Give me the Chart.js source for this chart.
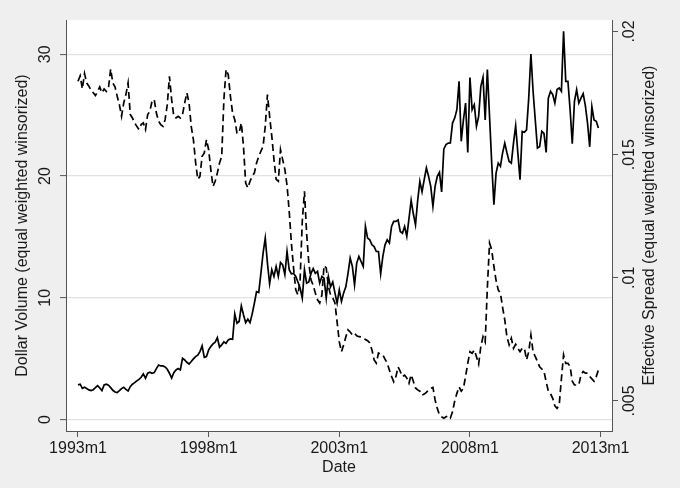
<!DOCTYPE html>
<html>
<head>
<meta charset="utf-8">
<script src="https://cdn.jsdelivr.net/npm/chart.js@4"></script>
<style>
html, body { margin: 0; padding: 0; background: #efefef; }
</style>
</head>
<body>
<canvas id="chart" width="680" height="488"></canvas>
<script>
// month index 0 = 1993m1
const xTickMonths = [0, 60, 120, 180, 240];
const xTickLabels = ['1993m1', '1998m1', '2003m1', '2008m1', '2013m1'];
const leftTicks = [0, 10, 20, 30];
const rightTicks = [0.005, 0.01, 0.015, 0.02];
const rightTickLabels = ['.005', '.01', '.015', '.02'];

const dollarVolume = [
 2.84,2.90,2.56,2.65,2.54,2.43,2.37,2.45,2.62,2.78,
 2.59,2.37,2.84,2.90,2.81,2.62,2.40,2.26,2.21,2.37,
 2.54,2.65,2.48,2.34,2.70,2.90,3.03,3.17,3.30,3.47,
 3.74,3.39,3.80,3.88,3.80,3.85,4.18,4.48,4.40,4.40,
 4.32,4.13,3.80,3.41,3.85,4.07,4.18,4.07,5.03,4.89,
 4.70,4.56,4.76,4.98,5.17,5.28,5.58,6.05,5.11,5.17,
 5.72,5.99,6.21,6.35,6.73,5.94,6.13,6.37,6.26,6.54,
 6.62,6.59,8.68,7.91,8.05,9.33,8.60,7.96,8.24,7.96,
 8.68,9.55,10.50,10.43,12.00,13.67,14.90,12.85,11.15,12.30,
 11.75,12.57,11.75,12.90,12.70,11.90,13.80,12.30,11.97,12.00,
 11.75,11.30,10.80,9.97,12.30,11.20,11.30,12.00,12.40,12.00,
 12.16,11.20,11.75,11.60,9.97,11.75,10.90,11.30,10.40,9.56,
 10.65,9.70,10.40,10.90,12.00,13.26,12.57,11.06,12.85,13.40,
 12.98,12.57,15.86,14.90,14.76,14.35,14.20,13.80,13.80,11.97,
 13.40,14.35,14.76,14.50,15.86,16.27,16.27,16.40,15.45,15.30,
 15.86,15.04,16.50,18.00,16.90,16.00,18.00,19.56,18.70,19.70,
 20.66,19.97,19.15,17.50,19.15,19.97,20.30,18.70,22.20,22.58,
 22.70,22.71,24.35,24.76,25.45,27.78,22.85,24.60,26.00,21.94,
 28.10,25.45,25.86,24.08,24.90,27.37,28.10,24.60,28.74,24.90,
 21.06,17.64,20.24,21.06,20.80,21.90,22.70,21.90,21.20,21.06,
 22.70,24.13,21.90,19.70,23.67,23.60,23.80,26.40,30.03,26.96,
 24.60,22.30,22.40,23.67,23.50,21.94,26.40,26.96,26.70,26.00,
 27.10,27.23,26.96,31.90,27.78,27.78,25.45,22.65,26.13,27.10,
 26.00,26.40,26.77,25.78,24.35,22.40,25.70,24.60,24.50,23.94
];

const effectiveSpread = [
 .01798,.01820,.01767,.01829,.01791,.01778,.01762,.01751,.01740,.01757,
 .01775,.01751,.01767,.01757,.01771,.01848,.01791,.01775,.01737,.01703,
 .01656,.01710,.01744,.01791,.01663,.01649,.01629,.01615,.01602,.01622,
 .01629,.01602,.01663,.01676,.01717,.01724,.01669,.01636,.01622,.01615,
 .01642,.01703,.01818,.01724,.01656,.01649,.01656,.01649,.01663,.01710,
 .01751,.01710,.01615,.01561,.01470,.01400,.01412,.01493,.01507,.01561,
 .01520,.01439,.01371,.01392,.01426,.01466,.01493,.01724,.01846,.01825,
 .01737,.01669,.01642,.01588,.01588,.01629,.01534,.01385,.01365,.01392,
 .01412,.01426,.01466,.01493,.01514,.01534,.01615,.01744,.01656,.01575,
 .01480,.01400,.01392,.01520,.01480,.01440,.01375,.01270,.01141,.01040,
 .00951,.00931,.00990,.01230,.01351,.01180,.01060,.00992,.00970,.00938,
 .00911,.00898,.00930,.01050,.01040,.00965,.00930,.00919,.00898,.00820,
 .00740,.00700,.00728,.00760,.00789,.00780,.00768,.00775,.00765,.00761,
 .00760,.00756,.00750,.00745,.00736,.00707,.00667,.00654,.00695,.00690,
 .00687,.00670,.00654,.00626,.00600,.00578,.00599,.00638,.00620,.00599,
 .00605,.00593,.00572,.00606,.00580,.00553,.00545,.00540,.00524,.00528,
 .00535,.00545,.00551,.00555,.00504,.00470,.00443,.00436,.00430,.00436,
 .00440,.00431,.00456,.00500,.00531,.00558,.00540,.00551,.00600,.00653,
 .00700,.00694,.00707,.00680,.00650,.00721,.00761,.00740,.00960,.01141,
 .01113,.01046,.00990,.00951,.00938,.00880,.00829,.00760,.00728,.00755,
 .00714,.00730,.00714,.00700,.00714,.00714,.00667,.00700,.00768,.00700,
 .00680,.00660,.00639,.00630,.00620,.00578,.00540,.00530,.00511,.00480,
 .00470,.00484,.00590,.00687,.00653,.00653,.00640,.00580,.00565,.00565,
 .00565,.00606,.00620,.00613,.00613,.00600,.00590,.00580,.00599,.00626
];

const FONT = '"Liberation Sans", Arial, sans-serif';
const TXT = '#1a1a1a';
const AXIS = '#555555';
Chart.defaults.font.family = FONT;
Chart.defaults.font.size = 16;
Chart.defaults.color = TXT;

// white plot region on gray graph region
const plotBg = {
  id: 'plotBg',
  beforeDraw(chart) {
    const {ctx, chartArea: a} = chart;
    ctx.save();
    ctx.fillStyle = '#efefef';
    ctx.fillRect(0, 0, chart.width, chart.height);
    ctx.fillStyle = '#ffffff';
    ctx.fillRect(a.left, a.top, a.right - a.left, a.bottom - a.top);
    ctx.restore();
  }
};

// right axis title reads bottom-to-top like the left one
const rightTitle = {
  id: 'rightTitle',
  afterDraw(chart) {
    const {ctx, chartArea: a} = chart;
    ctx.save();
    ctx.font = '16px ' + FONT;
    ctx.fillStyle = TXT;
    ctx.textAlign = 'center';
    ctx.textBaseline = 'middle';
    ctx.translate(650, (a.top + a.bottom) / 2);
    ctx.rotate(-Math.PI / 2);
    ctx.fillText('Effective Spread (equal weighted winsorized)', 0, 0);
    ctx.restore();
  }
};

new Chart(document.getElementById('chart'), {
  type: 'line',
  data: {
    datasets: [{
      label: 'Dollar Volume',
      data: dollarVolume.map((v, i) => ({x: i, y: v})),
      yAxisID: 'y',
      borderColor: '#000',
      borderWidth: 1.7,
      pointRadius: 0,
      tension: 0
    }, {
      label: 'Effective Spread',
      data: effectiveSpread.map((v, i) => ({x: i, y: v})),
      yAxisID: 'y2',
      borderColor: '#000',
      borderWidth: 1.7,
      borderDash: [7, 4],
      pointRadius: 0,
      tension: 0
    }]
  },
  options: {
    responsive: false,
    animation: false,
    layout: {padding: {top: 20, left: 0, right: 0, bottom: 0}},
    plugins: {legend: {display: false}, tooltip: {enabled: false}},
    scales: {
      x: {
        type: 'linear',
        min: -5.51,
        max: 245.24,
        afterBuildTicks: s => { s.ticks = xTickMonths.map(v => ({value: v})); },
        ticks: {
          callback: (v, i) => xTickLabels[i],
          autoSkip: false, maxRotation: 0, padding: 2
        },
        grid: {drawOnChartArea: false, tickLength: 6, tickColor: AXIS, color: AXIS},
        border: {color: AXIS, width: 1},
        title: {display: true, text: 'Date', padding: {top: 0, bottom: 11}},
        afterFit: s => { s.height = 57; s.paddingLeft = 0; s.paddingRight = 0; }
      },
      y: {
        position: 'left',
        min: -0.945,
        max: 32.818,
        afterBuildTicks: s => { s.ticks = leftTicks.map(v => ({value: v})); },
        ticks: {minRotation: 90, maxRotation: 90, crossAlign: 'center', padding: 5.6},
        grid: {color: '#e2e2e2', lineWidth: 1.2, tickColor: AXIS, tickWidth: 1, tickLength: 6},
        border: {color: AXIS, width: 1},
        title: {display: true, text: 'Dollar Volume (equal weighted winsorized)', padding: {top: 13, bottom: 0}},
        afterFit: s => { s.width = 66; s.paddingTop = 0; s.paddingBottom = 0; }
      },
      y2: {
        position: 'right',
        min: 0.003782,
        max: 0.020467,
        afterBuildTicks: s => { s.ticks = rightTicks.map(v => ({value: v})); },
        ticks: {
          callback: (v, i) => rightTickLabels[i],
          minRotation: 90, maxRotation: 90, crossAlign: 'center', padding: -3.6
        },
        grid: {drawOnChartArea: false, tickLength: 6, tickColor: AXIS, color: AXIS},
        border: {color: AXIS, width: 1},
        afterFit: s => { s.width = 68; s.paddingTop = 0; s.paddingBottom = 0; }
      }
    }
  },
  plugins: [plotBg, rightTitle]
});
</script>
</body>
</html>
